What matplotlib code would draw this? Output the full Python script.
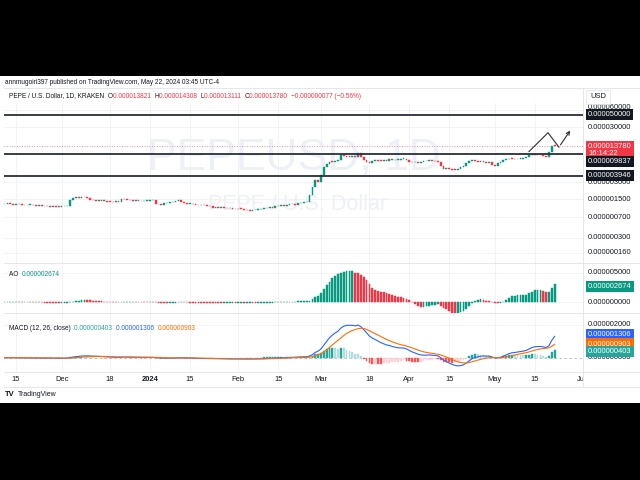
import numpy as np
import pandas as pd
import matplotlib
matplotlib.use("Agg")
import matplotlib.pyplot as plt
from matplotlib.patches import Rectangle

plt.rcParams["font.family"] = ["Liberation Sans", "DejaVu Sans"]

# ---------------- data ----------------
START = pd.Timestamp("2023-11-11")
# daily closes, in units of 1e-6 USD, Nov 11 2023 .. May 22 2024
CLOSE_E6 = [
    1.22, 1.25, 1.20, 1.18, 1.22, 1.20, 1.17,
    1.15, 1.16, 1.19, 1.15, 1.12, 1.14, 1.13,
    1.10, 1.11, 1.08, 1.10, 1.09, 1.07, 1.10,
    1.10, 1.13, 1.45, 1.55, 1.62, 1.58, 1.65,
    1.60, 1.55, 1.45, 1.42, 1.40, 1.44, 1.38,
    1.40, 1.35, 1.33, 1.30, 1.36, 1.34, 1.50,
    1.48, 1.45, 1.42, 1.40, 1.44, 1.38, 1.36,
    1.38, 1.40, 1.42, 1.45, 1.20, 1.22, 1.18,
    1.25, 1.28, 1.30, 1.32, 1.40, 1.45, 1.35,
    1.25, 1.22, 1.24, 1.20, 1.18, 1.15, 1.17,
    1.15, 1.14, 1.10, 1.05, 1.07, 1.04, 1.06,
    1.05, 1.02, 1.04, 1.00, 0.98, 1.00, 0.99,
    0.96, 0.94, 0.92, 0.93, 0.95, 0.97, 1.00,
    1.02, 1.04, 1.06, 1.05, 1.10, 1.12, 1.15,
    1.14, 1.18, 1.22, 1.20, 1.18, 1.25, 1.28,
    1.30, 1.35, 1.80, 2.50, 3.30, 3.10, 4.00,
    5.60, 6.50, 7.10, 7.00, 7.40, 7.60, 9.20,
    9.00, 8.80, 8.60, 8.90, 8.70, 10.0, 8.50,
    7.50, 7.00, 6.80, 7.30, 7.60, 7.40, 7.30,
    7.50, 7.40, 7.80, 7.50, 7.60, 7.70, 8.00,
    8.10, 7.60, 7.00, 6.90, 7.00, 6.80, 6.90,
    7.20, 7.40, 7.60, 7.20, 7.30, 7.10, 6.00,
    5.20, 5.40, 5.30, 5.10, 5.00, 5.20, 5.60,
    6.00, 6.80, 7.40, 7.60, 7.30, 7.10, 7.20,
    7.00, 6.80, 6.90, 6.20, 6.00, 6.60, 7.00,
    7.60, 7.80, 8.10, 8.00, 7.80, 8.00, 8.10,
    8.30, 8.50, 9.30, 9.60, 9.50, 9.20, 9.30,
    9.00, 8.80, 10.8, 13.857, 13.78,
]
FIRST_OPEN_E6 = 1.20
LEVELS = [0.000050000, 0.000009837, 0.000003946]          # drawn horizontal lines
LAST_PRICE = 0.000013780
PRICE_TICKS = [6e-5, 3e-5, 3e-6, 1.5e-6, 7e-7, 3e-7, 1.6e-7]
AO_TICKS = [5e-6, 0.0]
MACD_TICKS = [2e-6, 0.0]
AO_LAST = 0.000002674
MACD_LAST, SIGNAL_LAST, HIST_LAST = 0.000001306, 0.000000903, 0.000000403
TIME_TICKS = [("2023-11-15", "15"), ("2023-12-01", "Dec"), ("2023-12-18", "18"),
              ("2024-01-01", "2024"), ("2024-01-15", "15"), ("2024-02-01", "Feb"),
              ("2024-02-15", "15"), ("2024-03-01", "Mar"), ("2024-03-18", "18"),
              ("2024-04-01", "Apr"), ("2024-04-15", "15"), ("2024-05-01", "May"),
              ("2024-05-15", "15"), ("2024-06-01", "Jun")]
# hand-drawn zig-zag arrow (date, price)
ARROW_DATES = ["2024-05-13", "2024-05-19 16:00", "2024-05-23 12:00", "2024-05-28"]
ARROW_PRICES = [10.8e-6, 23.7e-6, 13.0e-6, 28.5e-6]

# ---------------- colours ----------------
UP, DOWN = "#089981", "#F23645"
TXT = "#131722"
GRID = "#f0f3fa"
SEP = "#e0e3eb"

W, H = 640, 480
L, R = 4, 583
PX_PER_DAY = 2.85
X0 = 4.6  # pixel of the first candle


def rect(x0, y0, x1, y1):
    return [x0 / W, 1 - y1 / H, (x1 - x0) / W, (y1 - y0) / H]


def dday(s):
    return (pd.Timestamp(s) - START) / pd.Timedelta(days=1)


XLIM = ((L - X0) / PX_PER_DAY, (R - X0) / PX_PER_DAY)

close = np.array(CLOSE_E6) * 1e-6
opn = np.r_[FIRST_OPEN_E6 * 1e-6, close[:-1]]
n = len(close)
xs = np.arange(n)
cs = pd.Series(close)
ao = (cs.rolling(5, min_periods=1).mean() - cs.rolling(34, min_periods=1).mean()).values
ema12 = cs.ewm(span=12, adjust=False).mean()
ema26 = cs.ewm(span=26, adjust=False).mean()
macd = (ema12 - ema26)
signal = macd.ewm(span=9, adjust=False).mean()
hist = (macd - signal).values
macd, signal = macd.values, signal.values

fig = plt.figure(figsize=(6.4, 4.8), dpi=100, facecolor="black")
fig.add_artist(Rectangle((0, 1 - 403 / H), 1, (403 - 76) / H, transform=fig.transFigure,
                         facecolor="white", edgecolor="none", zorder=0))

tick_days = [dday(t) for t, _ in TIME_TICKS]


def pane(y0, y1):
    ax = fig.add_axes(rect(L, y0, R, y1))
    ax.set_xlim(*XLIM)
    for s in ax.spines.values():
        s.set_visible(False)
    ax.set_xticks([]); ax.set_yticks([])
    for d in tick_days:
        ax.axvline(d, color=GRID, lw=0.7, zorder=0)
    return ax


# ---------------- price pane ----------------
ax = pane(103, 263)
ax.set_yscale("log")
ax.set_ylim(1.045e-7, 8.17e-5)
ax.set_yticks([]); ax.minorticks_off()
for p in PRICE_TICKS:
    ax.axhline(p, color=GRID, lw=0.7, zorder=0)
ax.text(0.5, 0.655, "PEPEUSD, 1D", transform=ax.transAxes, ha="center", va="center",
        fontsize=32, color="#edf0f6", zorder=0)
ax.text(0.507, 0.365, "PEPE / U.S. Dollar", transform=ax.transAxes, ha="center", va="center",
        fontsize=15.5, color="#edf0f6", zorder=0)
up = close >= opn
lo = np.minimum(opn, close)
hi = np.maximum(opn, close)
hgt = np.maximum(hi - lo, lo * 0.03)
ccol = np.where(up, UP, DOWN)
ax.bar(xs, hgt, bottom=lo, width=0.6, color=ccol, edgecolor=ccol, linewidth=0.3, zorder=3)
for lv in LEVELS:
    ax.axhline(lv, color="#2a2e39", lw=1.3, zorder=4)
ax.axhline(LAST_PRICE, color=DOWN, lw=0.6, ls=(0, (1, 2)), alpha=0.7, zorder=2)
ax.plot([dday(d) for d in ARROW_DATES[:-1]], ARROW_PRICES[:-1], color="#2a2e39", lw=0.8, zorder=5)
ax.annotate("", xy=(dday(ARROW_DATES[-1]), ARROW_PRICES[-1]),
            xytext=(dday(ARROW_DATES[-2]), ARROW_PRICES[-2]),
            arrowprops=dict(arrowstyle="->", color="#2a2e39", lw=0.8, mutation_scale=6), zorder=5)

ytr = ax.get_yaxis_transform()
LX = 1.0086
FS = 5.4
for p in PRICE_TICKS:
    dy = 2.0 if p == PRICE_TICKS[0] else 0.0
    ax.annotate(f"{p:.9f}", (LX, p), xycoords=ytr, xytext=(0, dy), textcoords="offset points",
                fontsize=FS, color=TXT, va="center", annotation_clip=False)
box = dict(boxstyle="square,pad=0.28", ec="none")
ax.annotate(f"{LEVELS[0]:.9f}", (LX, LEVELS[0]), xycoords=ytr, fontsize=FS, color="white",
            va="center", bbox=dict(box, fc="#131722"), annotation_clip=False, zorder=6)
ax.annotate(f"{LAST_PRICE:.9f}\n16:14:22", (LX, LAST_PRICE), xycoords=ytr, xytext=(0, -2.9),
            textcoords="offset points", fontsize=FS, color="white", va="center", linespacing=1.0,
            bbox=dict(box, fc=DOWN), annotation_clip=False, zorder=6)
ax.annotate(f"{LEVELS[1]:.9f}", (LX, LEVELS[1]), xycoords=ytr, xytext=(0, -5.3),
            textcoords="offset points", fontsize=FS, color="white", va="center",
            bbox=dict(box, fc="#131722"), annotation_clip=False, zorder=6)
ax.annotate(f"{LEVELS[2]:.9f}", (LX, LEVELS[2]), xycoords=ytr, fontsize=FS, color="white",
            va="center", bbox=dict(box, fc="#131722"), annotation_clip=False, zorder=6)

# ---------------- AO pane ----------------
ax2 = pane(263, 313)
ax2.set_ylim(-1.81e-6, 6.64e-6)
for p in AO_TICKS:
    ax2.axhline(p, color=GRID, lw=0.7, zorder=0)
ao_prev = np.r_[ao[0], ao[:-1]]
aocol = np.where(ao >= ao_prev, UP, DOWN)
ax2.bar(xs, ao, width=0.6, color=aocol, edgecolor=aocol, linewidth=0.35, zorder=3)
ytr2 = ax2.get_yaxis_transform()
for p in AO_TICKS:
    ax2.text(LX, p, f"{p:.9f}", transform=ytr2, fontsize=FS, color=TXT, va="center", clip_on=False)
ax2.annotate(f"{AO_LAST:.9f}", (LX, AO_LAST), xycoords=ytr2, fontsize=FS, color="white",
             va="center", bbox=dict(box, fc=UP), annotation_clip=False, zorder=6)

# ---------------- MACD pane ----------------
ax3 = pane(313, 372)
ax3.set_ylim(-0.875e-6, 2.73e-6)
ax3.axhline(2e-6, color=GRID, lw=0.7, zorder=0)
ax3.axhline(0, color="#b2b5be", lw=0.6, ls=(0, (3, 3)), zorder=1)
h_prev = np.r_[hist[0], hist[:-1]]
hcol = np.where(hist >= 0, np.where(hist >= h_prev, "#26A69A", "#B2DFDB"),
                np.where(hist >= h_prev, "#FFCDD2", "#FF5252"))
ax3.bar(xs, hist, width=0.6, color=hcol, edgecolor=hcol, linewidth=0.3, zorder=2)
ax3.plot(xs, macd, color="#2962FF", lw=0.8, zorder=3)
ax3.plot(xs, signal, color="#FF6D00", lw=0.8, zorder=3)
ytr3 = ax3.get_yaxis_transform()
for p in MACD_TICKS:
    ax3.text(LX, p, f"{p:.9f}", transform=ytr3, fontsize=FS, color=TXT, va="center", clip_on=False)
for val, col, off in [(MACD_LAST, "#2962FF", 1.0), (SIGNAL_LAST, "#FF6D00", -0.8),
                      (HIST_LAST, "#26A69A", -0.4)]:
    ax3.annotate(f"{val:.9f}", (LX, val), xycoords=ytr3, xytext=(0, off), textcoords="offset points",
                 fontsize=FS, color="white", va="center", bbox=dict(box, fc=col),
                 annotation_clip=False, zorder=6)

# ---------------- time axis ----------------
axt = fig.add_axes(rect(L, 372, R, 387))
axt.set_xlim(*XLIM); axt.set_ylim(0, 1)
axt.set_axis_off()
for (t, lab), d in zip(TIME_TICKS, tick_days):
    axt.text(d, 0.47, lab, ha="center", va="center", fontsize=FS, color=TXT,
             fontweight="bold" if lab == "2024" else "normal", clip_on=True)

# separators and borders
for y in (263, 313, 372, 387):
    fig.add_artist(plt.Line2D([L / W, 1], [1 - y / H] * 2, color=SEP, lw=0.6))
fig.add_artist(plt.Line2D([R / W] * 2, [1 - 387 / H, 1 - 88 / H], color=SEP, lw=0.6))
fig.add_artist(plt.Line2D([L / W, 1], [1 - 88 / H] * 2, color=SEP, lw=0.6))


# ---------------- texts ----------------
def row(x, y, pieces, fs=4.7):
    r = fig.canvas.get_renderer()
    for s, c in pieces:
        t = fig.text(x / W, 1 - y / H, s, fontsize=fs, color=c, va="center", ha="left")
        x += t.get_window_extent(r).width


fig.text(5 / W, 1 - 83 / H, "annmugoiri397 published on TradingView.com, May 22, 2024 03:45 UTC-4",
         fontsize=4.7, color=TXT, va="center")
row(9, 96, [("PEPE / U.S. Dollar, 1D, KRAKEN  ", TXT), ("O", TXT), ("0.000013821  ", DOWN),
            ("H", TXT), ("0.000014308  ", DOWN), ("L", TXT), ("0.000013111  ", DOWN),
            ("C", TXT), ("0.000013780  ", DOWN), ("\u22120.000000077 (\u22120.56%)", DOWN)])
fig.text(590 / W, 1 - 97 / H, "USD", fontsize=FS, color=TXT, va="center",
         bbox=dict(boxstyle="square,pad=0.5", fc="white", ec=SEP, lw=0.5))
row(9, 274, [("AO  ", TXT), (f"{AO_LAST:.9f}", UP)])
row(9, 328, [("MACD (12, 26, close)  ", TXT), (f"{HIST_LAST:.9f}  ", "#26A69A"),
             (f"{MACD_LAST:.9f}  ", "#2962FF"), (f"{SIGNAL_LAST:.9f}", "#FF6D00")])
fig.text(5 / W, 1 - 395 / H, "TV", fontsize=5.5, color=TXT, va="center", fontweight="bold")
fig.text(18 / W, 1 - 395 / H, "TradingView", fontsize=5.0, color=TXT, va="center")

fig.savefig("out.png", dpi=100, facecolor=fig.get_facecolor())
